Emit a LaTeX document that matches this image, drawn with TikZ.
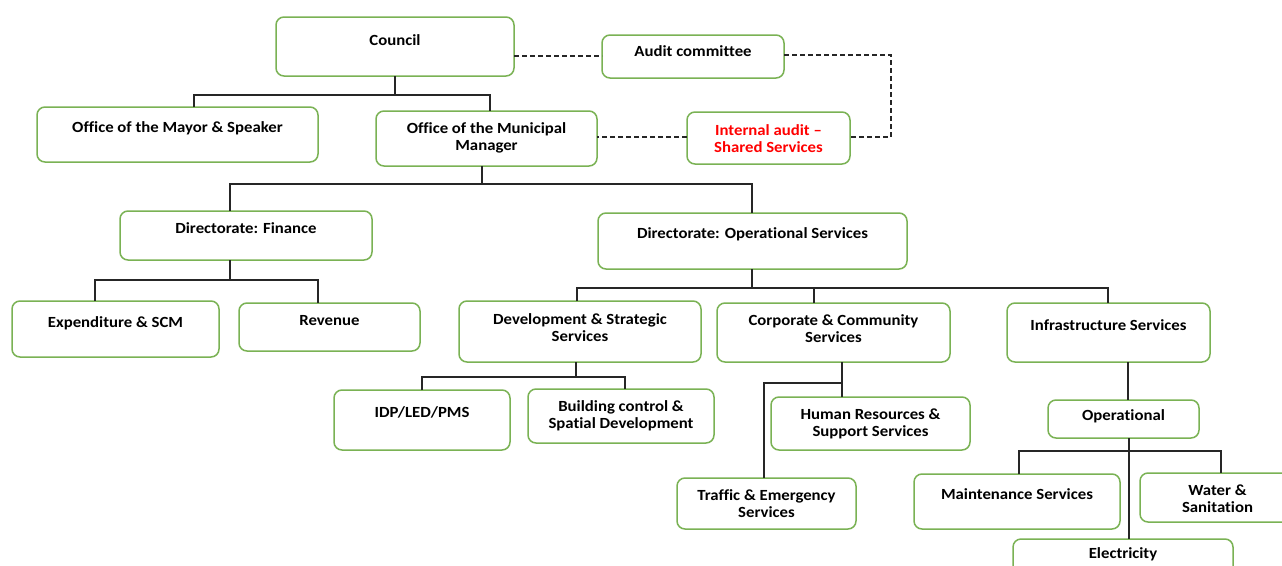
\documentclass[tikz,border=0pt]{standalone}
\usepackage{fontspec}
\setmainfont{Carlito}[FakeStretch=1.08,RawFeature={-liga;-clig;-dlig;-calt}]
\definecolor{boxgreen}{RGB}{122,178,84}
\definecolor{auditred}{RGB}{255,0,0}
\tikzset{
  box/.style={draw=boxgreen, line width=1.5pt, rounded corners=8pt, fill=white, inner sep=0pt, outer sep=0pt},
  txt/.style={align=center, inner sep=0pt, font=\fontsize{15.5}{17}\selectfont\bfseries},
  conn/.style={draw=black!85, line width=1.3pt},
  dashconn/.style={draw=black!85, line width=1.3pt, dash pattern=on 5pt off 3pt}
}
\newcommand\obox[8][black]{%
  \pgfmathsetmacro\bw{#5-#3}\pgfmathsetmacro\bh{#6-#4}%
  \node[box, minimum width=\bw pt, minimum height=\bh pt] (#2) at ({(#3+#5)/2},{(#4+#6)/2}) {};
  \node[txt, text=#1] (#2t) at ({(#3+#5)/2},#7) {#8};}
\begin{document}
\begin{tikzpicture}[x=1pt,y=-1pt]
\useasboundingbox (0,0) rectangle (1282,565);
\clip (0,0) rectangle (1282,565);
\fill[white] (0,0) rectangle (1282,565);
% boxes
\obox{council}{276}{17}{514}{76}{40.5}{Council}
\obox{audit}{602}{35}{784}{78}{51.5}{Audit committee}
\obox{mayor}{37}{107}{318}{162}{128.5}{Office of the Mayor \& Speaker}
\obox{mm}{376}{111}{597}{166}{138}{Office of the Municipal\\Manager}
\obox[auditred]{ia}{687}{112}{850}{164}{139}{Internal audit –\\Shared Services}
\obox{fin}{120}{211}{372}{260}{228.5}{Directorate: Finance}
\obox{ops}{598}{213}{907}{269}{234.5}{Directorate: Operational Services}
\obox{exp}{12}{301}{219}{357}{323.5}{Expenditure \& SCM}
\obox{rev}{239}{303}{420}{351}{320.5}{Revenue}
\obox{dev}{459}{301}{701}{362}{328}{Development \& Strategic\\Services}
\obox{corp}{717}{303}{950}{362}{329}{Corporate \& Community\\Services}
\obox{infra}{1007}{303}{1210}{362}{325.5}{Infrastructure Services}
\obox{idp}{334}{390}{510}{450}{412.5}{IDP/LED/PMS}
\obox{bld}{528}{389}{714}{443}{416}{Building control \&\\Spatial Development}
\obox{hr}{771}{397}{970}{450}{424}{Human Resources \&\\Support Services}
\obox{traf}{677}{478}{856}{529}{504}{Traffic \& Emergency\\Services}
\obox{oper}{1048}{400}{1199}{438}{416.5}{Operational}
\obox{maint}{914}{474}{1120}{529}{494.5}{Maintenance Services}
\obox{water}{1140}{473}{1295}{522}{499}{Water \&\\Sanitation}
\obox{elec}{1013}{539}{1233}{590}{554.5}{Electricity}
% bus coordinates
\coordinate (a1) at (194,95);  \coordinate (a2) at (490,95);
\coordinate (b0) at (482,184); \coordinate (b1) at (230,184); \coordinate (b2) at (752,184);
\coordinate (c0) at (230,280); \coordinate (c1) at (95,280);  \coordinate (c2) at (318,280);
\coordinate (d0) at (752,288); \coordinate (d1) at (577,288); \coordinate (d2) at (814,288); \coordinate (d3) at (1108,288);
\coordinate (e0) at (576,377); \coordinate (e1) at (422,377); \coordinate (e2) at (625,377);
\coordinate (f0) at (842,383); \coordinate (f1) at (764,383);
\coordinate (g0) at (1128,0);
\coordinate (h0) at (1129,451); \coordinate (h1) at (1019,451); \coordinate (h2) at (1221,451);
% solid connectors
\draw[conn] (council.south) -- (council.south |- a1);
\draw[conn] (mayor.north -| a1) -- (a1) -- (a2) -- (mm.north -| a2);
\draw[conn] (mm.south -| b0) -- (b0);
\draw[conn] (fin.north -| b1) -- (b1) -- (b2) -- (ops.north -| b2);
\draw[conn] (fin.south -| c0) -- (c0);
\draw[conn] (exp.north -| c1) -- (c1) -- (c2) -- (rev.north -| c2);
\draw[conn] (ops.south -| d0) -- (d0);
\draw[conn] (dev.north -| d1) -- (d1) -- (d3) -- (infra.north -| d3);
\draw[conn] (d2) -- (corp.north -| d2);
\draw[conn] (dev.south -| e0) -- (e0);
\draw[conn] (idp.north -| e1) -- (e1) -- (e2) -- (bld.north -| e2);
\draw[conn] (corp.south -| f0) -- (hr.north -| f0);
\draw[conn] (f0) -- (f1) -- (traf.north -| f1);
\draw[conn] (infra.south -| g0) -- (oper.north -| g0);
\draw[conn] (oper.south -| h0) -- (elec.north -| h0);
\draw[conn] (maint.north -| h1) -- (h1) -- (h2) -- (water.north -| h2);
% dashed connectors
\coordinate (q1) at (0,56); \coordinate (q2) at (891,55); \coordinate (q3) at (891,137);
\draw[dashconn] (council.east |- q1) -- (audit.west |- q1);
\draw[dashconn] (audit.east |- q2) -- (q2) -- (q3) -- (ia.east |- q3);
\draw[dashconn] (ia.west |- q3) -- (mm.east |- q3);
\end{tikzpicture}
\end{document}
